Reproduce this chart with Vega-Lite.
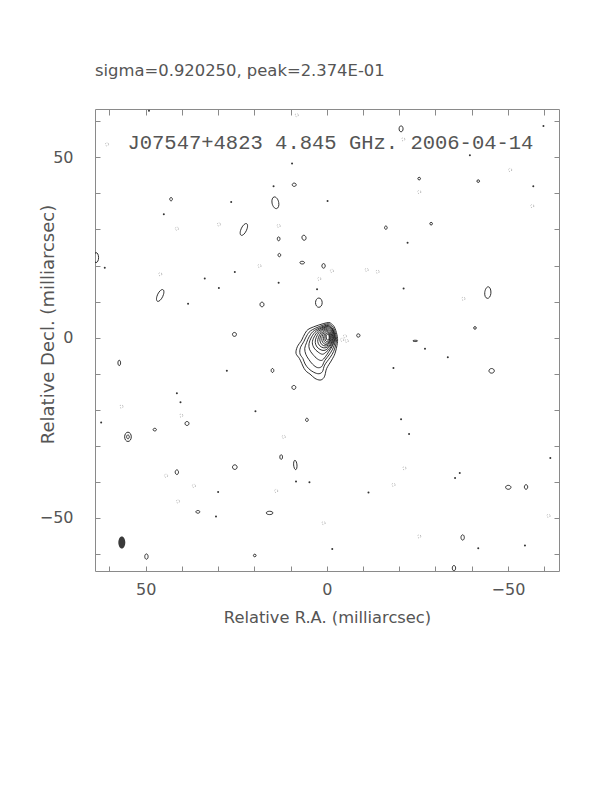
{
"$schema":"https://vega.github.io/schema/vega-lite/v6.json",
"autosize":{"type":"none"},
"padding":{"left":95,"top":109,"right":53,"bottom":221},
"width":464,"height":462,
"title":{"text":"sigma=0.920250, peak=2.374E-01","anchor":"start","frame":"group","baseline":"alphabetic","offset":16,"font":"DejaVu Sans","fontSize":16.4,"fontWeight":"normal","color":"#555"},
"config":{"view":{"stroke":"#8a8a8a","strokeWidth":1},"axis":{"domain":false,"grid":false,"tickColor":"#8a8a8a","tickWidth":1,"labelColor":"#555","labelFont":"DejaVu Sans","labelFontSize":16,"titleFont":"DejaVu Sans","titleFontSize":16.3,"titleFontWeight":"normal","titleColor":"#555"}},
"datasets":{
"contours":[
{"id":"m1","i":0,"ra":0.03,"dec":4.13},{"id":"m1","i":1,"ra":4.64,"dec":2.58},{"id":"m1","i":2,"ra":6.02,"dec":1.19},{"id":"m1","i":3,"ra":6.93,"dec":-0.67},{"id":"m1","i":4,"ra":8.14,"dec":-2.52},{"id":"m1","i":5,"ra":8.5,"dec":-4.36},{"id":"m1","i":6,"ra":7.59,"dec":-5.74},{"id":"m1","i":7,"ra":6.93,"dec":-7.13},{"id":"m1","i":8,"ra":6.29,"dec":-8.52},{"id":"m1","i":9,"ra":5.55,"dec":-9.46},{"id":"m1","i":10,"ra":4.64,"dec":-10.1},{"id":"m1","i":11,"ra":3.26,"dec":-11.3},{"id":"m1","i":12,"ra":1.88,"dec":-11.76},{"id":"m1","i":13,"ra":0.97,"dec":-11.3},{"id":"m1","i":14,"ra":0.5,"dec":-10.37},{"id":"m1","i":15,"ra":0.03,"dec":-8.52},{"id":"m1","i":16,"ra":-1.35,"dec":-6.2},{"id":"m1","i":17,"ra":-2.26,"dec":-4.36},{"id":"m1","i":18,"ra":-2.9,"dec":-1.58},{"id":"m1","i":19,"ra":-2.9,"dec":0.25},{"id":"m1","i":20,"ra":-2.26,"dec":2.58},{"id":"m1","i":21,"ra":-1.35,"dec":3.77},
{"id":"m2","i":0,"ra":0.0,"dec":3.8},{"id":"m2","i":1,"ra":4.0,"dec":2.2},{"id":"m2","i":2,"ra":5.4,"dec":0.8},{"id":"m2","i":3,"ra":6.3,"dec":-1.0},{"id":"m2","i":4,"ra":7.3,"dec":-2.8},{"id":"m2","i":5,"ra":7.4,"dec":-4.5},{"id":"m2","i":6,"ra":6.6,"dec":-5.8},{"id":"m2","i":7,"ra":6.0,"dec":-7.3},{"id":"m2","i":8,"ra":5.0,"dec":-8.6},{"id":"m2","i":9,"ra":3.6,"dec":-9.6},{"id":"m2","i":10,"ra":2.2,"dec":-10.0},{"id":"m2","i":11,"ra":1.2,"dec":-9.4},{"id":"m2","i":12,"ra":0.6,"dec":-7.6},{"id":"m2","i":13,"ra":-0.9,"dec":-5.5},{"id":"m2","i":14,"ra":-1.9,"dec":-3.8},{"id":"m2","i":15,"ra":-2.6,"dec":-1.4},{"id":"m2","i":16,"ra":-2.6,"dec":0.3},{"id":"m2","i":17,"ra":-2.0,"dec":2.4},{"id":"m2","i":18,"ra":-1.2,"dec":3.4},
{"id":"m3","i":0,"ra":0.0,"dec":3.5},{"id":"m3","i":1,"ra":3.4,"dec":2.0},{"id":"m3","i":2,"ra":4.8,"dec":0.4},{"id":"m3","i":3,"ra":5.6,"dec":-1.4},{"id":"m3","i":4,"ra":6.1,"dec":-3.0},{"id":"m3","i":5,"ra":5.8,"dec":-4.6},{"id":"m3","i":6,"ra":5.0,"dec":-6.0},{"id":"m3","i":7,"ra":3.9,"dec":-7.4},{"id":"m3","i":8,"ra":2.6,"dec":-8.3},{"id":"m3","i":9,"ra":1.4,"dec":-8.0},{"id":"m3","i":10,"ra":0.6,"dec":-6.4},{"id":"m3","i":11,"ra":-0.6,"dec":-4.8},{"id":"m3","i":12,"ra":-1.6,"dec":-3.2},{"id":"m3","i":13,"ra":-2.3,"dec":-1.2},{"id":"m3","i":14,"ra":-2.35,"dec":0.4},{"id":"m3","i":15,"ra":-1.8,"dec":2.2},{"id":"m3","i":16,"ra":-1.0,"dec":3.2},
{"id":"m4","i":0,"ra":0.0,"dec":3.3},{"id":"m4","i":1,"ra":2.8,"dec":1.9},{"id":"m4","i":2,"ra":4.2,"dec":0.2},{"id":"m4","i":3,"ra":4.9,"dec":-1.6},{"id":"m4","i":4,"ra":4.8,"dec":-3.2},{"id":"m4","i":5,"ra":3.9,"dec":-4.6},{"id":"m4","i":6,"ra":2.6,"dec":-5.9},{"id":"m4","i":7,"ra":1.4,"dec":-6.3},{"id":"m4","i":8,"ra":0.4,"dec":-5.3},{"id":"m4","i":9,"ra":-0.6,"dec":-3.8},{"id":"m4","i":10,"ra":-1.5,"dec":-2.4},{"id":"m4","i":11,"ra":-2.1,"dec":-0.9},{"id":"m4","i":12,"ra":-2.15,"dec":0.5},{"id":"m4","i":13,"ra":-1.7,"dec":2.1},{"id":"m4","i":14,"ra":-0.9,"dec":3.0},
{"id":"m5","i":0,"ra":0.0,"dec":3.1},{"id":"m5","i":1,"ra":2.3,"dec":1.8},{"id":"m5","i":2,"ra":3.5,"dec":0.2},{"id":"m5","i":3,"ra":4.0,"dec":-1.4},{"id":"m5","i":4,"ra":3.5,"dec":-2.9},{"id":"m5","i":5,"ra":2.4,"dec":-4.0},{"id":"m5","i":6,"ra":1.2,"dec":-4.6},{"id":"m5","i":7,"ra":0.2,"dec":-4.0},{"id":"m5","i":8,"ra":-0.8,"dec":-3.0},{"id":"m5","i":9,"ra":-1.6,"dec":-1.8},{"id":"m5","i":10,"ra":-2.0,"dec":-0.5},{"id":"m5","i":11,"ra":-1.95,"dec":0.9},{"id":"m5","i":12,"ra":-1.5,"dec":2.2},{"id":"m5","i":13,"ra":-0.8,"dec":2.9},
{"id":"m6","i":0,"ra":0.0,"dec":2.9},{"id":"m6","i":1,"ra":1.9,"dec":1.7},{"id":"m6","i":2,"ra":2.9,"dec":0.1},{"id":"m6","i":3,"ra":3.2,"dec":-1.3},{"id":"m6","i":4,"ra":2.7,"dec":-2.6},{"id":"m6","i":5,"ra":1.6,"dec":-3.4},{"id":"m6","i":6,"ra":0.5,"dec":-3.5},{"id":"m6","i":7,"ra":-0.5,"dec":-2.8},{"id":"m6","i":8,"ra":-1.3,"dec":-1.8},{"id":"m6","i":9,"ra":-1.8,"dec":-0.5},{"id":"m6","i":10,"ra":-1.75,"dec":0.9},{"id":"m6","i":11,"ra":-1.3,"dec":2.1},{"id":"m6","i":12,"ra":-0.7,"dec":2.7},
{"id":"m7","i":0,"ra":0.0,"dec":2.6},{"id":"m7","i":1,"ra":1.5,"dec":1.6},{"id":"m7","i":2,"ra":2.3,"dec":0.1},{"id":"m7","i":3,"ra":2.5,"dec":-1.1},{"id":"m7","i":4,"ra":2.0,"dec":-2.2},{"id":"m7","i":5,"ra":1.0,"dec":-2.8},{"id":"m7","i":6,"ra":0.0,"dec":-2.7},{"id":"m7","i":7,"ra":-0.9,"dec":-2.0},{"id":"m7","i":8,"ra":-1.5,"dec":-0.9},{"id":"m7","i":9,"ra":-1.6,"dec":0.4},{"id":"m7","i":10,"ra":-1.3,"dec":1.7},{"id":"m7","i":11,"ra":-0.7,"dec":2.4},
{"id":"m8","i":0,"ra":0.0,"dec":2.3},{"id":"m8","i":1,"ra":1.1,"dec":1.5},{"id":"m8","i":2,"ra":1.8,"dec":0.2},{"id":"m8","i":3,"ra":1.9,"dec":-0.9},{"id":"m8","i":4,"ra":1.4,"dec":-1.9},{"id":"m8","i":5,"ra":0.5,"dec":-2.3},{"id":"m8","i":6,"ra":-0.4,"dec":-2.1},{"id":"m8","i":7,"ra":-1.1,"dec":-1.3},{"id":"m8","i":8,"ra":-1.4,"dec":-0.2},{"id":"m8","i":9,"ra":-1.25,"dec":1.1},{"id":"m8","i":10,"ra":-0.7,"dec":2.0},
{"id":"m9","i":0,"ra":-0.1,"dec":2.0},{"id":"m9","i":1,"ra":0.8,"dec":1.4},{"id":"m9","i":2,"ra":1.3,"dec":0.3},{"id":"m9","i":3,"ra":1.35,"dec":-0.8},{"id":"m9","i":4,"ra":0.9,"dec":-1.6},{"id":"m9","i":5,"ra":0.1,"dec":-1.9},{"id":"m9","i":6,"ra":-0.7,"dec":-1.5},{"id":"m9","i":7,"ra":-1.1,"dec":-0.6},{"id":"m9","i":8,"ra":-1.15,"dec":0.5},{"id":"m9","i":9,"ra":-0.8,"dec":1.5},
{"id":"m10","i":0,"ra":-0.15,"dec":1.7},{"id":"m10","i":1,"ra":0.5,"dec":1.2},{"id":"m10","i":2,"ra":0.85,"dec":0.3},{"id":"m10","i":3,"ra":0.85,"dec":-0.7},{"id":"m10","i":4,"ra":0.4,"dec":-1.4},{"id":"m10","i":5,"ra":-0.3,"dec":-1.5},{"id":"m10","i":6,"ra":-0.8,"dec":-0.9},{"id":"m10","i":7,"ra":-0.95,"dec":0.1},{"id":"m10","i":8,"ra":-0.75,"dec":1.1},
{"id":"m11","i":0,"ra":-0.2,"dec":1.35},{"id":"m11","i":1,"ra":0.25,"dec":1.0},{"id":"m11","i":2,"ra":0.5,"dec":0.2},{"id":"m11","i":3,"ra":0.45,"dec":-0.6},{"id":"m11","i":4,"ra":0.05,"dec":-1.1},{"id":"m11","i":5,"ra":-0.5,"dec":-1.0},{"id":"m11","i":6,"ra":-0.8,"dec":-0.3},{"id":"m11","i":7,"ra":-0.75,"dec":0.6},{"id":"m11","i":8,"ra":-0.5,"dec":1.15},
{"id":"m12","i":0,"ra":-0.25,"dec":1.0},{"id":"m12","i":1,"ra":0.1,"dec":0.6},{"id":"m12","i":2,"ra":0.15,"dec":-0.1},{"id":"m12","i":3,"ra":-0.1,"dec":-0.65},{"id":"m12","i":4,"ra":-0.5,"dec":-0.6},{"id":"m12","i":5,"ra":-0.65,"dec":0.0},{"id":"m12","i":6,"ra":-0.55,"dec":0.7},
{"id":"r1","i":0,"ra":9.55,"dec":42.4},{"id":"r1","i":1,"ra":9.0,"dec":42.86},{"id":"r1","i":2,"ra":8.45,"dec":42.4},{"id":"r1","i":3,"ra":9.0,"dec":41.94},
{"id":"r2","i":0,"ra":15.12,"dec":37.3},{"id":"r2","i":1,"ra":14.5,"dec":39.02},{"id":"r2","i":2,"ra":13.28,"dec":37.5},{"id":"r2","i":3,"ra":13.9,"dec":35.78},
{"id":"r3","i":0,"ra":43.37,"dec":38.4},{"id":"r3","i":1,"ra":43.0,"dec":38.86},{"id":"r3","i":2,"ra":42.63,"dec":38.4},{"id":"r3","i":3,"ra":43.0,"dec":37.94},
{"id":"r4","i":0,"ra":23.82,"dec":29.7},{"id":"r4","i":1,"ra":22.45,"dec":31.62},{"id":"r4","i":2,"ra":21.98,"dec":30.3},{"id":"r4","i":3,"ra":23.35,"dec":28.38},
{"id":"r5","i":0,"ra":13.67,"dec":27.4},{"id":"r5","i":1,"ra":13.3,"dec":27.95},{"id":"r5","i":2,"ra":12.93,"dec":27.4},{"id":"r5","i":3,"ra":13.3,"dec":26.85},
{"id":"r6","i":0,"ra":6.85,"dec":27.6},{"id":"r6","i":1,"ra":6.45,"dec":28.39},{"id":"r6","i":2,"ra":5.75,"dec":27.8},{"id":"r6","i":3,"ra":6.15,"dec":27.01},
{"id":"r7","i":0,"ra":13.47,"dec":22.9},{"id":"r7","i":1,"ra":13.1,"dec":23.36},{"id":"r7","i":2,"ra":12.73,"dec":22.9},{"id":"r7","i":3,"ra":13.1,"dec":22.44},
{"id":"r8","i":0,"ra":7.44,"dec":20.8},{"id":"r8","i":1,"ra":6.8,"dec":21.17},{"id":"r8","i":2,"ra":6.16,"dec":20.8},{"id":"r8","i":3,"ra":6.8,"dec":20.43},
{"id":"r9","i":0,"ra":1.36,"dec":19.9},{"id":"r9","i":1,"ra":0.9,"dec":20.54},{"id":"r9","i":2,"ra":0.44,"dec":19.9},{"id":"r9","i":3,"ra":0.9,"dec":19.26},
{"id":"r10","i":0,"ra":64.39,"dec":22.2},{"id":"r10","i":1,"ra":63.7,"dec":23.58},{"id":"r10","i":2,"ra":63.01,"dec":22.2},{"id":"r10","i":3,"ra":63.7,"dec":20.82},
{"id":"r11","i":0,"ra":46.92,"dec":11.4},{"id":"r11","i":1,"ra":45.55,"dec":13.32},{"id":"r11","i":2,"ra":45.08,"dec":12.0},{"id":"r11","i":3,"ra":46.45,"dec":10.08},
{"id":"r12","i":0,"ra":18.45,"dec":9.2},{"id":"r12","i":1,"ra":17.9,"dec":9.84},{"id":"r12","i":2,"ra":17.35,"dec":9.2},{"id":"r12","i":3,"ra":17.9,"dec":8.56},
{"id":"r13","i":0,"ra":3.12,"dec":9.7},{"id":"r13","i":1,"ra":2.2,"dec":10.99},{"id":"r13","i":2,"ra":1.28,"dec":9.7},{"id":"r13","i":3,"ra":2.2,"dec":8.41},
{"id":"r14","i":0,"ra":26.05,"dec":0.9},{"id":"r14","i":1,"ra":25.5,"dec":1.45},{"id":"r14","i":2,"ra":24.95,"dec":0.9},{"id":"r14","i":3,"ra":25.5,"dec":0.35},
{"id":"r15","i":0,"ra":-25.13,"dec":44.1},{"id":"r15","i":1,"ra":-25.5,"dec":44.47},{"id":"r15","i":2,"ra":-25.87,"dec":44.1},{"id":"r15","i":3,"ra":-25.5,"dec":43.73},
{"id":"r16","i":0,"ra":-41.43,"dec":43.4},{"id":"r16","i":1,"ra":-41.8,"dec":43.77},{"id":"r16","i":2,"ra":-42.17,"dec":43.4},{"id":"r16","i":3,"ra":-41.8,"dec":43.03},
{"id":"r17","i":0,"ra":-15.93,"dec":30.5},{"id":"r17","i":1,"ra":-16.3,"dec":30.96},{"id":"r17","i":2,"ra":-16.67,"dec":30.5},{"id":"r17","i":3,"ra":-16.3,"dec":30.04},
{"id":"r18","i":0,"ra":-28.43,"dec":31.6},{"id":"r18","i":1,"ra":-28.8,"dec":31.97},{"id":"r18","i":2,"ra":-29.17,"dec":31.6},{"id":"r18","i":3,"ra":-28.8,"dec":31.23},
{"id":"r19","i":0,"ra":-43.6,"dec":12.5},{"id":"r19","i":1,"ra":-44.6,"dec":14.1},{"id":"r19","i":2,"ra":-45.3,"dec":12.3},{"id":"r19","i":3,"ra":-44.3,"dec":10.9},
{"id":"r20","i":0,"ra":-40.53,"dec":2.7},{"id":"r20","i":1,"ra":-40.9,"dec":3.07},{"id":"r20","i":2,"ra":-41.27,"dec":2.7},{"id":"r20","i":3,"ra":-40.9,"dec":2.33},
{"id":"r21","i":0,"ra":-8.24,"dec":0.6},{"id":"r21","i":1,"ra":-8.7,"dec":1.06},{"id":"r21","i":2,"ra":-9.16,"dec":0.6},{"id":"r21","i":3,"ra":-8.7,"dec":0.14},
{"id":"r22","i":0,"ra":-19.95,"dec":57.9},{"id":"r22","i":1,"ra":-20.5,"dec":58.73},{"id":"r22","i":2,"ra":-21.05,"dec":57.9},{"id":"r22","i":3,"ra":-20.5,"dec":57.07},
{"id":"r23","i":0,"ra":57.67,"dec":-7.0},{"id":"r23","i":1,"ra":57.3,"dec":-6.26},{"id":"r23","i":2,"ra":56.93,"dec":-7.0},{"id":"r23","i":3,"ra":57.3,"dec":-7.74},
{"id":"r24","i":0,"ra":15.37,"dec":-9.1},{"id":"r24","i":1,"ra":15.0,"dec":-8.55},{"id":"r24","i":2,"ra":14.63,"dec":-9.1},{"id":"r24","i":3,"ra":15.0,"dec":-9.65},
{"id":"r25","i":0,"ra":9.65,"dec":-13.8},{"id":"r25","i":1,"ra":9.1,"dec":-13.25},{"id":"r25","i":2,"ra":8.55,"dec":-13.8},{"id":"r25","i":3,"ra":9.1,"dec":-14.35},
{"id":"r26","i":0,"ra":5.87,"dec":-22.8},{"id":"r26","i":1,"ra":5.5,"dec":-22.34},{"id":"r26","i":2,"ra":5.13,"dec":-22.8},{"id":"r26","i":3,"ra":5.5,"dec":-23.26},
{"id":"r27","i":0,"ra":39.15,"dec":-23.8},{"id":"r27","i":1,"ra":38.6,"dec":-23.25},{"id":"r27","i":2,"ra":38.05,"dec":-23.8},{"id":"r27","i":3,"ra":38.6,"dec":-24.35},
{"id":"r28","i":0,"ra":47.96,"dec":-25.5},{"id":"r28","i":1,"ra":47.5,"dec":-25.13},{"id":"r28","i":2,"ra":47.04,"dec":-25.5},{"id":"r28","i":3,"ra":47.5,"dec":-25.87},
{"id":"r29a","i":0,"ra":55.82,"dec":-27.5},{"id":"r29a","i":1,"ra":54.9,"dec":-26.21},{"id":"r29a","i":2,"ra":53.98,"dec":-27.5},{"id":"r29a","i":3,"ra":54.9,"dec":-28.79},
{"id":"r29b","i":0,"ra":55.27,"dec":-27.5},{"id":"r29b","i":1,"ra":54.9,"dec":-26.95},{"id":"r29b","i":2,"ra":54.53,"dec":-27.5},{"id":"r29b","i":3,"ra":54.9,"dec":-28.05},
{"id":"r30","i":0,"ra":12.97,"dec":-33.1},{"id":"r30","i":1,"ra":12.6,"dec":-32.46},{"id":"r30","i":2,"ra":12.23,"dec":-33.1},{"id":"r30","i":3,"ra":12.6,"dec":-33.74},
{"id":"r31","i":0,"ra":9.16,"dec":-35.3},{"id":"r31","i":1,"ra":8.8,"dec":-34.01},{"id":"r31","i":2,"ra":8.24,"dec":-35.3},{"id":"r31","i":3,"ra":8.6,"dec":-36.59},
{"id":"r32","i":0,"ra":26.04,"dec":-35.9},{"id":"r32","i":1,"ra":25.4,"dec":-35.26},{"id":"r32","i":2,"ra":24.76,"dec":-35.9},{"id":"r32","i":3,"ra":25.4,"dec":-36.54},
{"id":"r33","i":0,"ra":41.86,"dec":-37.3},{"id":"r33","i":1,"ra":41.4,"dec":-36.66},{"id":"r33","i":2,"ra":40.94,"dec":-37.3},{"id":"r33","i":3,"ra":41.4,"dec":-37.94},
{"id":"r34","i":0,"ra":36.15,"dec":-48.3},{"id":"r34","i":1,"ra":35.6,"dec":-47.93},{"id":"r34","i":2,"ra":35.05,"dec":-48.3},{"id":"r34","i":3,"ra":35.6,"dec":-48.67},
{"id":"r35","i":0,"ra":16.72,"dec":-48.6},{"id":"r35","i":1,"ra":15.8,"dec":-48.14},{"id":"r35","i":2,"ra":14.88,"dec":-48.6},{"id":"r35","i":3,"ra":15.8,"dec":-49.06},
{"id":"r36","i":0,"ra":50.26,"dec":-60.7},{"id":"r36","i":1,"ra":49.8,"dec":-59.96},{"id":"r36","i":2,"ra":49.34,"dec":-60.7},{"id":"r36","i":3,"ra":49.8,"dec":-61.44},
{"id":"r37","i":0,"ra":20.27,"dec":-60.4},{"id":"r37","i":1,"ra":19.9,"dec":-60.03},{"id":"r37","i":2,"ra":19.53,"dec":-60.4},{"id":"r37","i":3,"ra":19.9,"dec":-60.77},
{"id":"r38","i":0,"ra":-23.76,"dec":-0.9},{"id":"r38","i":1,"ra":-24.4,"dec":-0.72},{"id":"r38","i":2,"ra":-25.04,"dec":-0.9},{"id":"r38","i":3,"ra":-24.4,"dec":-1.08},
{"id":"r39","i":0,"ra":-44.76,"dec":-9.2},{"id":"r39","i":1,"ra":-45.5,"dec":-8.56},{"id":"r39","i":2,"ra":-46.24,"dec":-9.2},{"id":"r39","i":3,"ra":-45.5,"dec":-9.84},
{"id":"r40","i":0,"ra":-49.36,"dec":-41.5},{"id":"r40","i":1,"ra":-50.1,"dec":-40.95},{"id":"r40","i":2,"ra":-50.84,"dec":-41.5},{"id":"r40","i":3,"ra":-50.1,"dec":-42.05},
{"id":"r41","i":0,"ra":-54.54,"dec":-41.4},{"id":"r41","i":1,"ra":-55.0,"dec":-40.76},{"id":"r41","i":2,"ra":-55.46,"dec":-41.4},{"id":"r41","i":3,"ra":-55.0,"dec":-42.04},
{"id":"r42","i":0,"ra":-37.04,"dec":-55.4},{"id":"r42","i":1,"ra":-37.5,"dec":-54.66},{"id":"r42","i":2,"ra":-37.96,"dec":-55.4},{"id":"r42","i":3,"ra":-37.5,"dec":-56.14},
{"id":"r43","i":0,"ra":-34.64,"dec":-63.9},{"id":"r43","i":1,"ra":-35.1,"dec":-63.16},{"id":"r43","i":2,"ra":-35.56,"dec":-63.9},{"id":"r43","i":3,"ra":-35.1,"dec":-64.64}
],
"dots":[
{"ra":9.6,"dec":48.3},{"ra":14.7,"dec":42.0},{"ra":45.0,"dec":34.2},{"ra":26.4,"dec":37.6},{"ra":61.3,"dec":19.4},{"ra":38.3,"dec":9.4},{"ra":33.7,"dec":16.4},{"ra":13.3,"dec":15.2},{"ra":2.7,"dec":13.4},{"ra":-39.5,"dec":50.6},{"ra":-59.8,"dec":58.7},{"ra":-0.2,"dec":37.9},{"ra":-21.2,"dec":13.6},{"ra":-22.3,"dec":26.3},{"ra":27.6,"dec":-9.2},{"ra":19.7,"dec":-20.4},{"ra":41.4,"dec":-15.4},{"ra":40.4,"dec":-17.9},{"ra":62.3,"dec":-23.5},{"ra":30.0,"dec":-42.8},{"ra":8.5,"dec":-39.9},{"ra":4.8,"dec":-40.1},{"ra":30.6,"dec":-49.6},{"ra":-27.1,"dec":-3.1},{"ra":-33.4,"dec":-5.4},{"ra":-18.4,"dec":-8.4},{"ra":-36.7,"dec":-37.5},{"ra":-11.5,"dec":-42.9},{"ra":-54.7,"dec":-57.6},{"ra":-41.8,"dec":-58.4},{"ra":-1.5,"dec":-58.6},{"ra":-61.7,"dec":-33.4},{"ra":-20.5,"dec":-22.6},{"ra":-22.7,"dec":-26.7},{"ra":-35.4,"dec":-38.9},{"ra":49.1,"dec":62.9},{"ra":29.8,"dec":13.8},{"ra":25.4,"dec":18.2},{"ra":-57.0,"dec":42.0}
],
"neg":[
{"ra":60.7,"dec":53.6},{"ra":29.8,"dec":31.4},{"ra":41.4,"dec":30.2},{"ra":13.3,"dec":31.0},{"ra":18.6,"dec":19.9},{"ra":46.0,"dec":17.6},{"ra":2.1,"dec":16.3},{"ra":-25.5,"dec":40.4},{"ra":-50.6,"dec":46.5},{"ra":-56.7,"dec":36.5},{"ra":-37.7,"dec":10.8},{"ra":-5.0,"dec":0.4},{"ra":-4.2,"dec":-0.6},{"ra":-1.4,"dec":18.5},{"ra":-11.0,"dec":18.8},{"ra":-14.0,"dec":18.3},{"ra":8.3,"dec":61.7},{"ra":40.2,"dec":-21.6},{"ra":56.7,"dec":-19.1},{"ra":11.9,"dec":-27.5},{"ra":44.4,"dec":-38.3},{"ra":36.7,"dec":-41.1},{"ra":41.1,"dec":-45.4},{"ra":14.0,"dec":-42.5},{"ra":0.9,"dec":-51.4},{"ra":-5.5,"dec":-0.9},{"ra":-21.4,"dec":-36.2},{"ra":-18.4,"dec":-40.8},{"ra":-61.2,"dec":-49.4},{"ra":-25.5,"dec":-55.1},{"ra":-21.1,"dec":55.0}
],
"beam":[{"ra":56.6,"dec":-56.8}]
},
"resolve":{"axis":{"x":"independent","y":"independent"}},
"layer":[
{"data":{"name":"contours"},
 "transform":[{"filter":"indexof(datum.id,'m')===0"}],
 "mark":{"type":"line","interpolate":"cardinal-closed","strokeWidth":0.9,"color":"#1a1a1a","clip":true},
 "encoding":{
  "x":{"field":"ra","type":"quantitative","scale":{"domain":[64,-64.1],"nice":false,"zero":false},
       "axis":{"orient":"bottom","values":[50,0,-50],"ticks":false,"tickSize":0,"labelPadding":10,"labelFlush":false,"labelOverlap":false,"title":"Relative R.A. (milliarcsec)","titleBaseline":"alphabetic","titleY":51}},
  "y":{"field":"dec","type":"quantitative","scale":{"domain":[-64.7,63.4],"nice":false,"zero":false},
       "axis":{"orient":"left","values":[50,0,-50],"ticks":false,"tickSize":0,"labelPadding":22,"labelFlush":false,"labelOverlap":false,"title":"Relative Decl. (milliarcsec)","titleFontSize":18,"titleBaseline":"alphabetic","titleAngle":270,"titleX":-42,"titleY":215}},
  "detail":{"field":"id","type":"nominal"},
  "order":{"field":"i","type":"quantitative"}}},
{"data":{"name":"contours"},
 "transform":[{"filter":"indexof(datum.id,'r')===0"}],
 "mark":{"type":"line","interpolate":"cardinal-closed","tension":-0.65,"strokeWidth":0.9,"color":"#1a1a1a","clip":true},
 "encoding":{
  "x":{"field":"ra","type":"quantitative","axis":null},
  "y":{"field":"dec","type":"quantitative","axis":null},
  "detail":{"field":"id","type":"nominal"},
  "order":{"field":"i","type":"quantitative"}}},
{"data":{"name":"dots"},
 "mark":{"type":"point","filled":true,"size":4,"color":"#333","opacity":1,"clip":true},
 "encoding":{
  "x":{"field":"ra","type":"quantitative","axis":{"orient":"bottom","values":[60,50,40,30,20,10,0,-10,-20,-30,-40,-50,-60],"labels":false,"tickSize":-5,"title":null}},
  "y":{"field":"dec","type":"quantitative","axis":{"orient":"left","values":[60,50,40,30,20,10,0,-10,-20,-30,-40,-50,-60],"labels":false,"tickSize":-5,"title":null}}}},
{"data":{"name":"neg"},
 "mark":{"type":"point","filled":false,"size":10,"color":"#888","strokeWidth":0.7,"strokeDash":[1,1.5],"opacity":1,"clip":true},
 "encoding":{
  "x":{"field":"ra","type":"quantitative","axis":{"orient":"top","values":[60,50,40,30,20,10,0,-10,-20,-30,-40,-50,-60],"labels":false,"tickSize":-6,"title":null}},
  "y":{"field":"dec","type":"quantitative","axis":{"orient":"right","values":[60,50,40,30,20,10,0,-10,-20,-30,-40,-50,-60],"labels":false,"tickSize":-5,"title":null}}}},
{"data":{"name":"beam"},
 "mark":{"type":"point","filled":true,"size":144,"color":"#3a3a3a","opacity":1,"shape":"M0,-1C0.32,-1,0.58,-0.55,0.58,0C0.58,0.55,0.32,1,0,1C-0.32,1,-0.58,0.55,-0.58,0C-0.58,-0.55,-0.32,-1,0,-1Z"},
 "encoding":{
  "x":{"field":"ra","type":"quantitative","axis":null},
  "y":{"field":"dec","type":"quantitative","axis":null}}},
{"data":{"values":[{"label":"J07547+4823 4.845 GHz. 2006-04-14"}]},
 "mark":{"type":"text","font":"Liberation Mono","fontSize":20.5,"align":"center","baseline":"alphabetic","color":"#555"},
 "encoding":{
  "x":{"datum":-1.0,"type":"quantitative","axis":null},
  "y":{"datum":52.3,"type":"quantitative","axis":null},
  "text":{"field":"label","type":"nominal"}}}
]
}
